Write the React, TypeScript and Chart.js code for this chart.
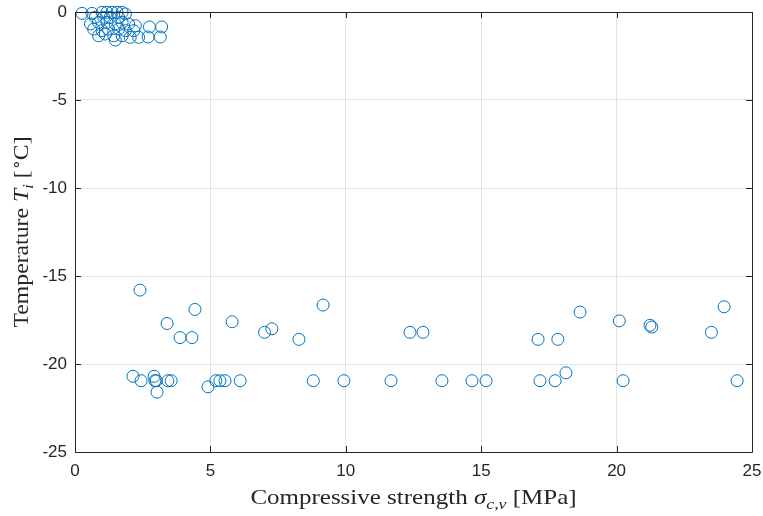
import React, { useEffect, useRef } from "react";
import { Chart, registerables } from "chart.js";

Chart.register(...registerables);

// Cluster near 0 °C
const clusterStrength = [
  0.26, 0.63, 1.0, 1.18, 1.37, 1.55, 1.74, 1.86,
  0.75, 1.06, 1.3, 1.61,
  0.57, 0.87, 1.18, 1.49, 1.74, 1.98, 2.23,
  0.69, 1.0, 1.24, 1.61, 1.86, 2.17,
  0.87, 1.12, 1.43, 1.74, 2.04, 2.35, 1.49,
  2.75, 3.2, 2.7, 3.15,
];
const clusterTemp = [
  -0.08, -0.08, -0.02, -0.02, -0.02, -0.02, -0.02, -0.11,
  -0.3, -0.3, -0.3, -0.3,
  -0.68, -0.59, -0.59, -0.68, -0.59, -0.68, -0.78,
  -0.97, -1.06, -0.97, -0.97, -1.06, -1.06,
  -1.35, -1.25, -1.35, -1.35, -1.44, -1.44, -1.59,
  -0.85, -0.85, -1.42, -1.42,
];

// Scattered group around -18 °C
const midStrength = [
  2.4, 3.4, 3.88, 4.32, 4.43, 5.8, 7.0, 7.27, 8.27, 9.16,
  12.37, 12.85, 17.1, 17.83, 18.65, 20.1, 21.23, 21.3, 23.5, 23.97,
];
const midTemp = [
  -15.8, -17.7, -18.5, -18.5, -16.9, -17.6, -18.2, -18.0, -18.6, -16.65,
  -18.2, -18.2, -18.6, -18.6, -17.05, -17.55, -17.8, -17.9, -18.2, -16.75,
];

// Row around -21 °C
const lowStrength = [
  2.14, 2.44, 2.92, 2.95, 3.0, 3.03, 3.43, 3.55, 4.91, 5.2, 5.35, 5.54,
  6.1, 8.8, 9.93, 11.67, 13.55, 14.66, 15.18, 17.17, 17.73, 18.13, 20.24, 24.45,
];
const lowTemp = [
  -20.7, -20.95, -20.7, -20.95, -20.95, -21.6, -20.95, -20.95, -21.3, -20.95, -20.95, -20.95,
  -20.95, -20.95, -20.95, -20.95, -20.95, -20.95, -20.95, -20.95, -20.95, -20.5, -20.95, -20.95,
];

const xTicks = [0, 5, 10, 15, 20, 25];
const yTicks = [0, -5, -10, -15, -20, -25];

const AXIS = "#262626";
const GRID = "#e3e3e3";
const BLUE = "#0072BD";
const TICK_FONT = "Liberation Sans";
const TITLE_FONT = "'Liberation Serif', serif";

type Seg = { t: string; italic?: boolean; sub?: boolean; sup?: boolean };

function drawRich(ctx: CanvasRenderingContext2D, segs: Seg[], size: number, stretch: number) {
  const fontFor = (s: Seg) => {
    const sz = s.sub || s.sup ? Math.round(size * 0.7) : size;
    return `${s.italic ? "italic " : ""}${sz}px ${TITLE_FONT}`;
  };
  let total = 0;
  const widths = segs.map((s) => {
    ctx.font = fontFor(s);
    const w = ctx.measureText(s.t).width;
    total += w;
    return w;
  });
  ctx.scale(stretch, 1);
  let x = -total / 2;
  segs.forEach((s, i) => {
    ctx.font = fontFor(s);
    const dy = s.sub ? size * 0.25 : s.sup ? -size * 0.35 : 0;
    ctx.fillText(s.t, x, dy);
    x += widths[i];
  });
}

const framePlugin = {
  id: "frame",
  afterDraw(chart: any) {
    const { ctx, chartArea } = chart;
    const { left, right, top, bottom } = chartArea;
    const xs = chart.scales.x;
    const ys = chart.scales.y;
    ctx.save();
    ctx.strokeStyle = AXIS;
    ctx.lineWidth = 1;
    ctx.beginPath();
    ctx.rect(Math.round(left) + 0.5, Math.round(top) + 0.5, Math.round(right - left), Math.round(bottom - top));
    ctx.stroke();
    const tl = 6;
    ctx.beginPath();
    xTicks.forEach((v) => {
      const px = Math.round(xs.getPixelForValue(v)) + 0.5;
      ctx.moveTo(px, bottom);
      ctx.lineTo(px, bottom - tl);
      ctx.moveTo(px, top);
      ctx.lineTo(px, top + tl);
    });
    yTicks.forEach((v) => {
      const py = Math.round(ys.getPixelForValue(v)) + 0.5;
      ctx.moveTo(left, py);
      ctx.lineTo(left + tl, py);
      ctx.moveTo(right, py);
      ctx.lineTo(right - tl, py);
    });
    ctx.stroke();

    ctx.fillStyle = AXIS;
    ctx.textBaseline = "alphabetic";
    ctx.textAlign = "left";
    // X title
    ctx.save();
    ctx.translate((left + right) / 2, 504);
    drawRich(
      ctx,
      [
        { t: "Compressive strength " },
        { t: "σ", italic: true },
        { t: "c,v", italic: true, sub: true },
        { t: " [MPa]" },
      ],
      21,
      1.19
    );
    ctx.restore();
    // Y title
    ctx.save();
    ctx.translate(28, (top + bottom) / 2);
    ctx.rotate(-Math.PI / 2);
    drawRich(
      ctx,
      [
        { t: "Temperature " },
        { t: "T", italic: true },
        { t: "i", italic: true, sub: true },
        { t: " [" },
        { t: "∘", sup: true },
        { t: "C]" },
      ],
      21,
      1.13
    );
    ctx.restore();
    ctx.restore();
  },
};

export default function App() {
  const ref = useRef<HTMLCanvasElement>(null);
  useEffect(() => {
    document.body.style.margin = "0";
    const canvas = ref.current!;
    const data = [
      ...clusterStrength.map((x, i) => ({ x, y: clusterTemp[i] })),
      ...midStrength.map((x, i) => ({ x, y: midTemp[i] })),
      ...lowStrength.map((x, i) => ({ x, y: lowTemp[i] })),
    ];
    const chart = new Chart(canvas, {
      type: "scatter",
      data: {
        datasets: [
          {
            data,
            pointStyle: "circle",
            pointRadius: 6,
            pointHoverRadius: 6,
            pointBorderWidth: 1,
            pointBorderColor: BLUE,
            pointBackgroundColor: "rgba(0,0,0,0)",
            borderColor: BLUE,
            backgroundColor: "rgba(0,0,0,0)",
            clip: false as any,
          },
        ],
      },
      options: {
        animation: false,
        responsive: false,
        maintainAspectRatio: false,
        layout: { padding: { top: 12, right: 11, left: 0, bottom: 0 } },
        plugins: { legend: { display: false }, tooltip: { enabled: false }, title: { display: false } },
        scales: {
          x: {
            type: "linear",
            min: 0,
            max: 25,
            afterBuildTicks: (s: any) => {
              s.ticks = xTicks.map((v) => ({ value: v }));
            },
            afterFit: (s: any) => {
              s.height = 64;
              s.paddingLeft = 0;
              s.paddingRight = 0;
            },
            ticks: {
              autoSkip: false,
              maxRotation: 0,
              padding: 9,
              color: AXIS,
              font: { family: TICK_FONT, size: 17 },
            },
            grid: { color: GRID, drawTicks: false, lineWidth: 1 },
            border: { display: false },
          },
          y: {
            type: "linear",
            min: -25,
            max: 0,
            afterBuildTicks: (s: any) => {
              s.ticks = yTicks.map((v) => ({ value: v }));
            },
            afterFit: (s: any) => {
              s.width = 75;
              s.paddingTop = 0;
              s.paddingBottom = 0;
            },
            ticks: {
              autoSkip: false,
              padding: 8,
              color: AXIS,
              font: { family: TICK_FONT, size: 17 },
            },
            grid: { color: GRID, drawTicks: false, lineWidth: 1 },
            border: { display: false },
          },
        },
      },
      plugins: [framePlugin],
    });
    return () => chart.destroy();
  }, []);
  return <canvas ref={ref} width={763} height={516} style={{ display: "block" }} />;
}
